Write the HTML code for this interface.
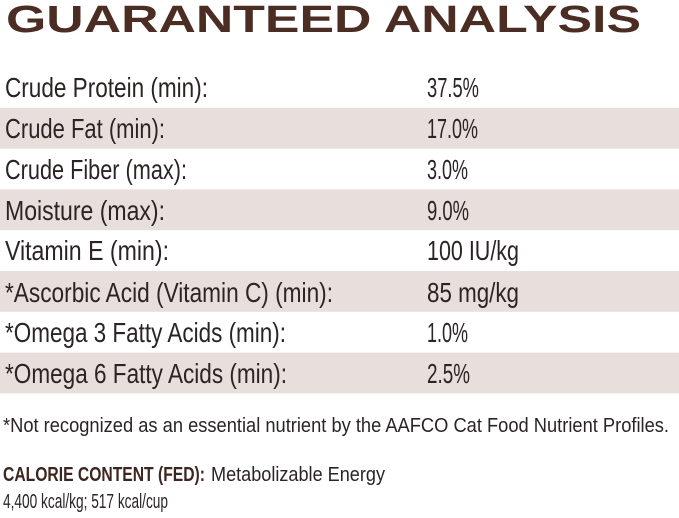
<!DOCTYPE html>
<html><head><style>html,body{margin:0;padding:0;background:#fff;}svg{display:block}</style></head>
<body>
<svg width="679" height="518" xmlns="http://www.w3.org/2000/svg" font-family="Liberation Sans, sans-serif">
<rect width="679" height="518" fill="#fff"/>
<text x="6" y="32" font-size="38" font-weight="bold" fill="#4b2d24" textLength="635" lengthAdjust="spacingAndGlyphs">GUARANTEED ANALYSIS</text>
<g fill="#e6dfdc">
<rect x="0" y="107.8" width="679" height="40.8"/>
<rect x="0" y="189.4" width="679" height="40.8"/>
<rect x="0" y="271" width="679" height="40.8"/>
<rect x="0" y="352.6" width="679" height="40.8"/>
</g>
<g font-size="28" fill="#2a2524">
<text x="5" y="97" textLength="203" lengthAdjust="spacingAndGlyphs">Crude Protein (min):</text>
<text x="427" y="97" textLength="52" lengthAdjust="spacingAndGlyphs">37.5%</text>
<text x="5" y="138" textLength="160" lengthAdjust="spacingAndGlyphs">Crude Fat (min):</text>
<text x="427" y="138" textLength="51" lengthAdjust="spacingAndGlyphs">17.0%</text>
<text x="5" y="179" textLength="182" lengthAdjust="spacingAndGlyphs">Crude Fiber (max):</text>
<text x="427" y="179" textLength="41" lengthAdjust="spacingAndGlyphs">3.0%</text>
<text x="5" y="220" textLength="160" lengthAdjust="spacingAndGlyphs">Moisture (max):</text>
<text x="427" y="220" textLength="42" lengthAdjust="spacingAndGlyphs">9.0%</text>
<text x="5" y="260" textLength="164" lengthAdjust="spacingAndGlyphs">Vitamin E (min):</text>
<text x="427" y="260" textLength="92" lengthAdjust="spacingAndGlyphs">100 IU/kg</text>
<text x="5" y="302" textLength="328" lengthAdjust="spacingAndGlyphs">*Ascorbic Acid (Vitamin C) (min):</text>
<text x="427" y="302" textLength="92" lengthAdjust="spacingAndGlyphs">85 mg/kg</text>
<text x="5" y="342" textLength="281" lengthAdjust="spacingAndGlyphs">*Omega 3 Fatty Acids (min):</text>
<text x="427" y="342" textLength="41" lengthAdjust="spacingAndGlyphs">1.0%</text>
<text x="5" y="383" textLength="282" lengthAdjust="spacingAndGlyphs">*Omega 6 Fatty Acids (min):</text>
<text x="427" y="383" textLength="43" lengthAdjust="spacingAndGlyphs">2.5%</text>
</g>
<text x="3" y="432" font-size="20" fill="#2a2524" textLength="666" lengthAdjust="spacingAndGlyphs">*Not recognized as an essential nutrient by the AAFCO Cat Food Nutrient Profiles.</text>
<text x="3" y="481" font-size="20" font-weight="bold" fill="#3d2620" textLength="202" lengthAdjust="spacingAndGlyphs">CALORIE CONTENT (FED):</text>
<text x="211" y="481" font-size="20" fill="#2a2524" textLength="174" lengthAdjust="spacingAndGlyphs">Metabolizable Energy</text>
<text x="3" y="508" font-size="20" fill="#2a2524" textLength="165" lengthAdjust="spacingAndGlyphs">4,400 kcal/kg; 517 kcal/cup</text>
</svg>
</body></html>
